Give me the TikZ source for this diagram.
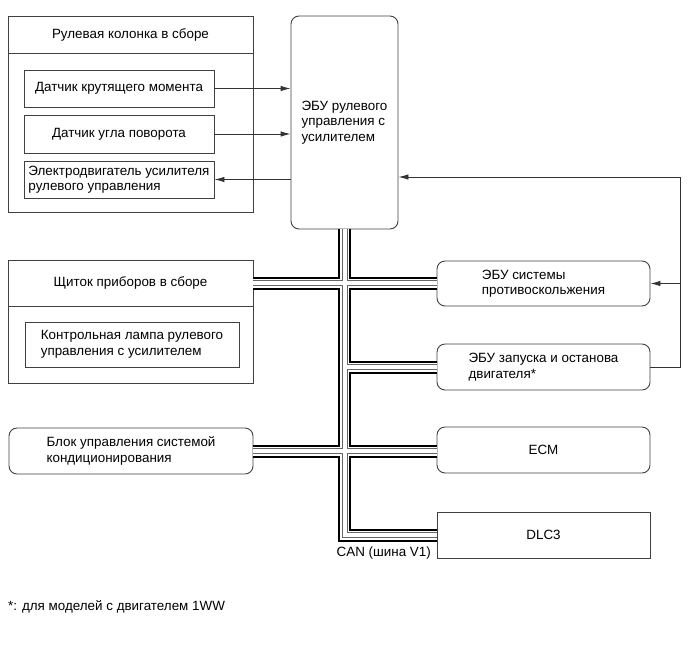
\documentclass[tikz,border=0pt]{standalone}
\usepackage{fontspec}
\setmainfont{Liberation Sans}
\usetikzlibrary{arrows.meta}
\begin{document}
\begin{tikzpicture}[x=1pt,y=-1pt,
  every node/.style={font=\fontsize{13.4}{15.5}\selectfont, text=black},
  box/.style={draw=black!75, line width=0.9pt, fill=white, inner sep=0pt, align=left},
  rbox/.style={box, rounded corners=8pt},
  arr/.style={draw=black!80, line width=0.9pt, -{Latex[length=10pt,width=5.5pt]}},
  wire/.style={draw=black!80, line width=0.9pt}]
\useasboundingbox (0,0) rectangle (690,659);
% steering column assembly
\node[box, minimum width=245, minimum height=196] (col) at (130.5,114) {};
\node[box, minimum width=245, minimum height=37] (colh) at (130.5,34.5) {Рулевая колонка в сборе};
\node[box, minimum width=190, minimum height=37] (s1) at (119,88.5) {Датчик крутящего момента};
\node[box, minimum width=190, minimum height=38] (s2) at (119,134) {Датчик угла поворота};
\node[box, minimum width=190, minimum height=37] (mot) at (119,179.5) {Электродвигатель усилителя\\рулевого управления};
% EPS ECU
\node[rbox, minimum width=107, minimum height=213] (ecu) at (344.5,122.5) {ЭБУ рулевого\\управления с\\усилителем};
% combination meter
\node[box, minimum width=245, minimum height=123] (sch) at (130.5,321.5) {};
\node[box, minimum width=245, minimum height=46] (schh) at (130.5,283) {Щиток приборов в сборе};
\node[box, minimum width=214, minimum height=45] (lamp) at (132,344.5) {Контрольная лампа рулевого\\управления с усилителем};
% air conditioning
\node[rbox, minimum width=244, minimum height=46] (clim) at (131,451) {Блок управления системой\\кондиционирования};
% right column
\node[rbox, minimum width=213, minimum height=45] (anti) at (543.5,283.5) {ЭБУ системы\\противоскольжения};
\node[rbox, minimum width=213, minimum height=46] (ss) at (543.5,367) {ЭБУ запуска и останова\\двигателя*};
\node[rbox, minimum width=213, minimum height=46] (ecm) at (543.5,450) {ECM};
\node[box, minimum width=213, minimum height=46] (dlc) at (543.5,535) {DLC3};
% signal arrows
\draw[arr] (s1.east) -- (s1.east -| ecu.west);
\draw[arr] (s2.east) -- (s2.east -| ecu.west);
\draw[arr] (mot.east -| ecu.west) -- (mot.east);
\coordinate (fb) at (680,177);
\draw[wire] (ss.east) -| (fb);
\draw[arr] (fb) -- (fb -| ecu.east);
\draw[arr] (fb |- anti.east) -- (anti.east);
% CAN bus (layered strokes)
\newcommand\canbus[1]{%
  \draw[#1] (ecu.south) |- (dlc.west);
  \draw[#1] (schh.east) -- (schh.east -| anti.west);
  \draw[#1] (ecu.south |- ss.west) -- (ss.west);
  \draw[#1] (clim.east) -- (clim.east -| ecm.west);
}
\canbus{line width=13pt, black}
\canbus{line width=9pt, white}
\canbus{line width=6pt, black!60}
\canbus{line width=4pt, white}
\node[anchor=east, inner sep=0pt] (can) at (431,553) {CAN (шина V1)};
% footnote
\node[anchor=west, inner sep=0pt] (fn) at (8,607) {*: для моделей с двигателем 1WW};
\end{tikzpicture}
\end{document}
